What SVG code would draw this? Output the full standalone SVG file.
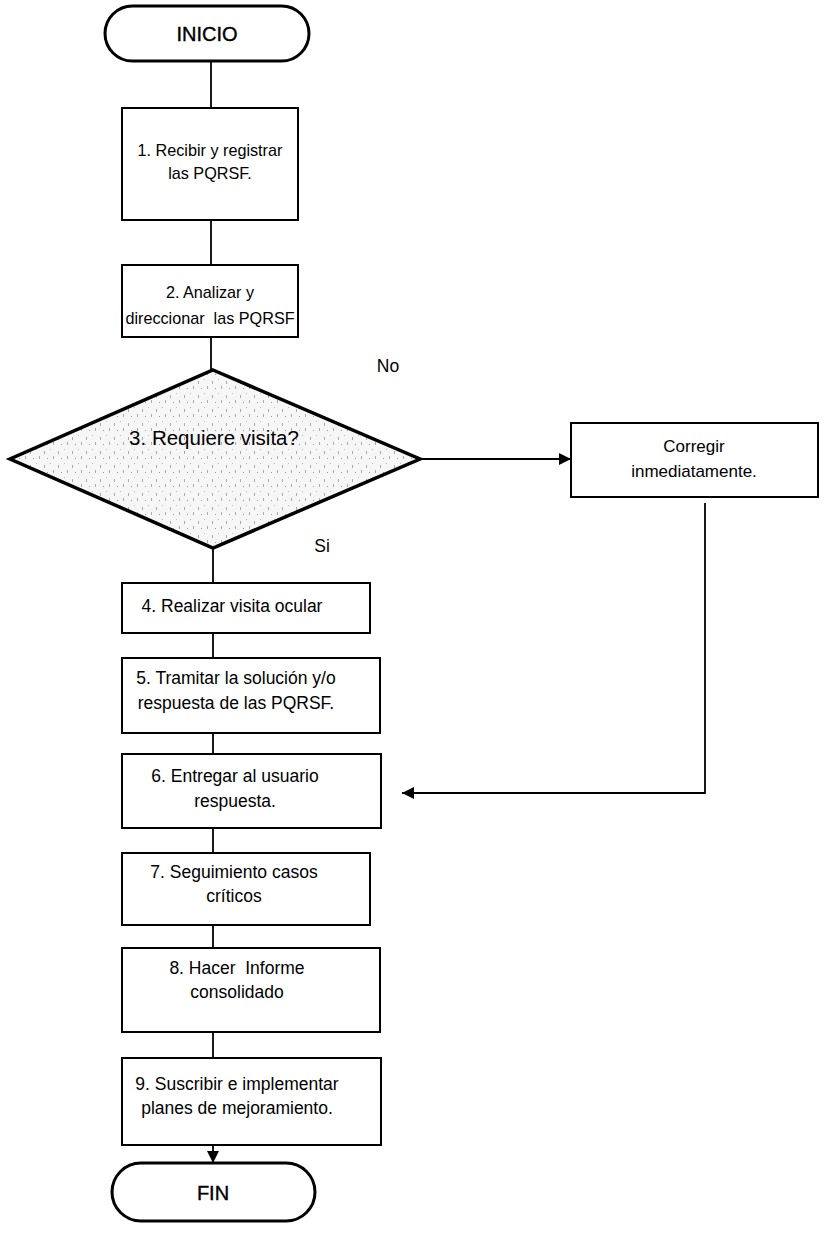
<svg xmlns="http://www.w3.org/2000/svg" width="828" height="1234" viewBox="0 0 828 1234">
<style>
.bx{fill:#fff;stroke:#000;stroke-width:2}
.term{fill:#fff;stroke:#000;stroke-width:3}
.dia{fill:url(#speck);stroke:#000;stroke-width:3.5}
.ln{fill:none;stroke:#000;stroke-width:1.8}
text{font-family:"Liberation Sans",Arial,sans-serif;font-size:17.5px;fill:#000;text-anchor:middle;dominant-baseline:central}
.sm{font-size:16.2px}
.md{font-size:17px}
.lg{font-size:20.5px}
.tt{font-size:20px;stroke:#000;stroke-width:0.4}
</style>
<defs>
<pattern id="speck" width="14" height="14" patternUnits="userSpaceOnUse">
<rect width="14" height="14" fill="#f6f6f6"/>
<rect x="2" y="3" width="1" height="3" fill="#aaa"/>
<rect x="8" y="1" width="1" height="1" fill="#bbb"/>
<rect x="11" y="8" width="1" height="3" fill="#aaa"/>
<rect x="5" y="10" width="1" height="1" fill="#999"/>
</pattern>
<marker id="ahb" viewBox="0 0 10 10" refX="10" refY="5" markerWidth="14" markerHeight="12" markerUnits="userSpaceOnUse" orient="auto"><path d="M0,0 L10,5 L0,10 z" fill="#000"/></marker>
</defs>
<g id="connectors">
<line class="ln" x1="211" y1="61" x2="211" y2="108"/>
<line class="ln" x1="211" y1="220" x2="211" y2="265"/>
<line class="ln" x1="211" y1="337" x2="211" y2="370"/>
<line class="ln" x1="213" y1="548" x2="213" y2="583"/>
<line class="ln" x1="213" y1="633" x2="213" y2="658"/>
<line class="ln" x1="213" y1="733" x2="213" y2="754"/>
<line class="ln" x1="213" y1="828" x2="213" y2="853"/>
<line class="ln" x1="213" y1="925" x2="213" y2="948"/>
<line class="ln" x1="213" y1="1032" x2="213" y2="1058"/>
<line class="ln" x1="213" y1="1145" x2="213" y2="1163" marker-end="url(#ahb)"/>
<line class="ln" x1="420" y1="459" x2="571" y2="459" marker-end="url(#ahb)"/>
<polyline class="ln" points="705,503 705,793 402,793" marker-end="url(#ahb)"/>
</g>
<g id="inicio"><rect class="term" x="105" y="6" width="204" height="55" rx="27.5"/><text class="tt" x="207" y="34">INICIO</text></g>
<g id="n1"><rect class="bx" x="122" y="108" width="176" height="112"/><text class="sm" x="210" y="150">1. Recibir y registrar</text><text class="sm" x="210" y="173">las PQRSF.</text></g>
<g id="n2"><rect class="bx" x="122" y="265" width="176" height="72"/><text class="sm" x="210" y="292">2. Analizar y</text><text class="sm" x="210" y="318" xml:space="preserve">direccionar  las PQRSF</text></g>
<g id="n3"><polygon class="dia" points="213,370 420,459 213,548 10,459"/><text class="lg" x="214" y="437">3. Requiere visita?</text></g>
<g id="lblNo"><text x="388" y="366">No</text></g>
<g id="lblSi"><text x="322" y="546">Si</text></g>
<g id="corregir"><rect class="bx" x="571" y="423" width="247" height="74"/><text class="md" x="694" y="446">Corregir</text><text class="md" x="694" y="471">inmediatamente.</text></g>
<g id="n4"><rect class="bx" x="122" y="583" width="248" height="50"/><text x="232" y="606">4. Realizar visita ocular</text></g>
<g id="n5"><rect class="bx" x="122" y="658" width="258" height="75"/><text x="236" y="678">5. Tramitar la solución y/o</text><text x="236" y="703">respuesta de las PQRSF.</text></g>
<g id="n6"><rect class="bx" x="122" y="754" width="259" height="74"/><text x="235" y="776">6. Entregar al usuario</text><text x="235" y="801">respuesta.</text></g>
<g id="n7"><rect class="bx" x="122" y="853" width="248" height="72"/><text x="234" y="872">7. Seguimiento casos</text><text x="234" y="896">críticos</text></g>
<g id="n8"><rect class="bx" x="122" y="948" width="258" height="84"/><text x="237" y="968" xml:space="preserve">8. Hacer  Informe</text><text x="237" y="992">consolidado</text></g>
<g id="n9"><rect class="bx" x="122" y="1058" width="259" height="87"/><text x="237" y="1084">9. Suscribir e implementar</text><text x="237" y="1108">planes de mejoramiento.</text></g>
<g id="fin"><rect class="term" x="112" y="1163" width="203" height="58" rx="29"/><text class="tt" x="213" y="1193">FIN</text></g>
</svg>
